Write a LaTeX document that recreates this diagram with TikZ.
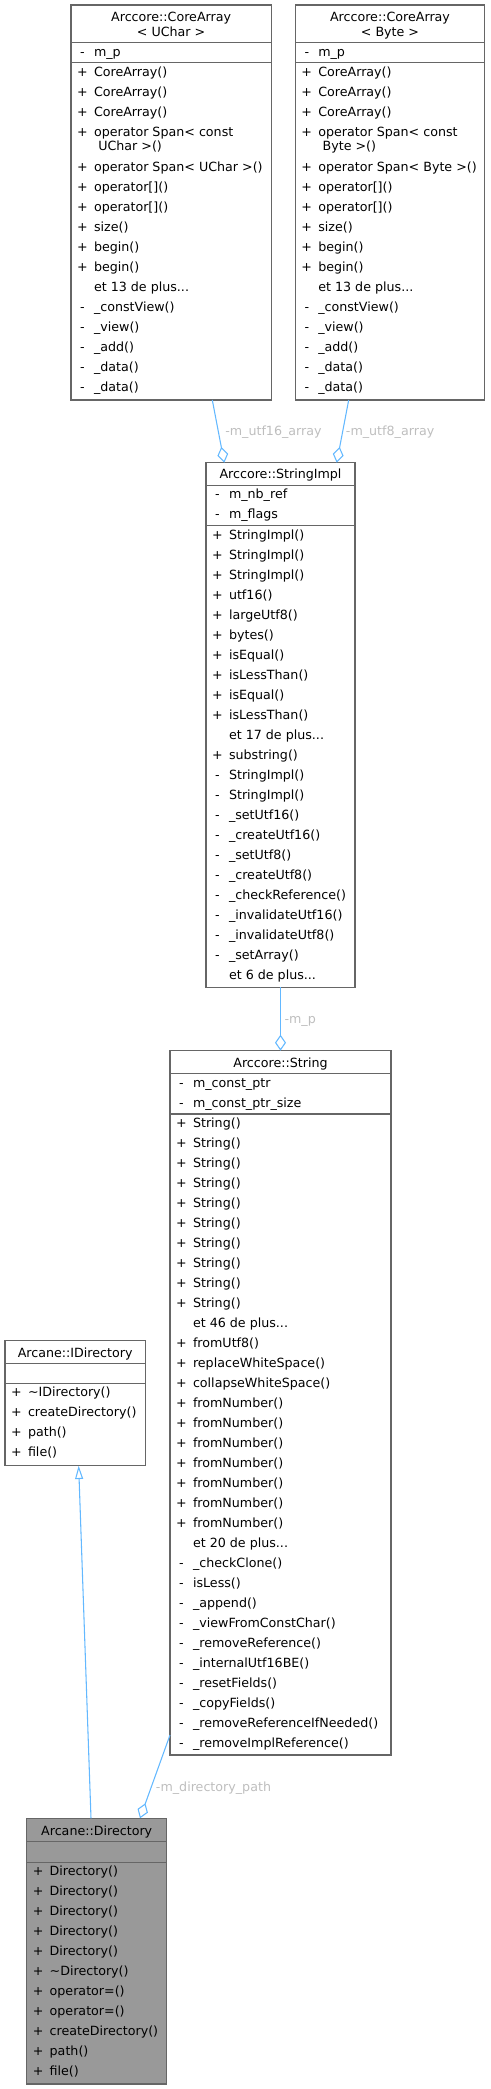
\documentclass[tikz,border=0pt]{standalone}
\usepackage{fontspec}
\setmainfont{DejaVu Sans}
\usetikzlibrary{arrows.meta,fit,calc}
\definecolor{edgec}{HTML}{63B8FF}
\definecolor{boxc}{HTML}{666666}
\definecolor{labc}{HTML}{BEBEBE}
\definecolor{hlfill}{HTML}{999999}
\newcounter{tn}
\newcommand{\mem}[4]{\stepcounter{tn}%
  \node[memtext,anchor=base] (s\arabic{tn}) at ({#1+11.5},{#2+4.7}) {#3};%
  \node[memtext,anchor=base west] (t\arabic{tn}) at ({#1+23},{#2+4.7}) {#4};}
\newcommand{\cont}[3]{\stepcounter{tn}%
  \node[memtext,anchor=base west] (c\arabic{tn}) at ({#1+27.3},{#2+4.7}) {#3};}
\newcommand{\ttl}[3]{\stepcounter{tn}%
  \node[memtext,anchor=base] (h\arabic{tn}) at ({#1},{#2+4.7}) {#3};}
\newcommand{\hsep}[3]{\draw[sepline] (#1,#3) -- (#2,#3);}
\begin{document}
\begin{tikzpicture}[x=0.75pt,y=-0.75pt,
  memtext/.style={inner sep=0pt, outer sep=0pt, font=\fontsize{9.5}{11.4}\selectfont, text=black},
  classbox/.style={draw=boxc, line width=0.8pt, inner sep=0pt, outer sep=0pt, fill=white},
  sepline/.style={draw=boxc, line width=0.8pt},
  edge/.style={draw=edgec, line width=0.8pt},
  elabel/.style={inner sep=0pt, font=\fontsize{9.5}{11.4}\selectfont, text=labc, anchor=base west},
  agg/.style={-{Diamond[open,length=12pt,width=8.25pt]}},
  inh/.style={-{Triangle[open,length=10pt,width=6pt]}}]
\useasboundingbox (0,0) rectangle (490,2089);

% ---------- boxes ----------
\node[classbox, fit={(71,5) (271.3,400)}] (cuc) {};
\node[classbox, fit={(295.3,5) (484.7,400)}] (cby) {};
\node[classbox, fit={(206,462.7) (355,987.3)}] (sim) {};
\node[classbox, fit={(170,1050.7) (391,1755)}] (str) {};
\node[classbox, fit={(5,1340.7) (145.3,1465.7)}] (idir) {};
\node[classbox, fill=hlfill, fit={(26.7,1818.3) (166.7,2084)}] (dir) {};

% ---------- separators ----------
\hsep{71}{271.3}{42.7}\hsep{71}{271.3}{62.3}
\hsep{295.3}{484.7}{42.7}\hsep{295.3}{484.7}{62.3}
\hsep{206}{355}{485.3}\hsep{206}{355}{525.3}
\hsep{170}{391}{1073.3}\hsep{170}{391}{1114}
\hsep{5}{145.3}{1363.3}\hsep{5}{145.3}{1383.3}
\hsep{26.7}{166.7}{1841.7}\hsep{26.7}{166.7}{1862.3}

% ---------- CoreArray<UChar> ----------
\ttl{171.15}{16.7}{Arccore::CoreArray}
\ttl{171.15}{31.7}{< UChar >}
\mem{71}{51.7}{-}{m\_p}
\mem{71}{71.3}{+}{CoreArray()}
\mem{71}{91.3}{+}{CoreArray()}
\mem{71}{111.3}{+}{CoreArray()}
\mem{71}{131.3}{+}{operator Span< const}
\cont{71}{146}{UChar >()}
\mem{71}{166.3}{+}{operator Span< UChar >()}
\mem{71}{186.3}{+}{operator[]()}
\mem{71}{206.3}{+}{operator[]()}
\mem{71}{226.3}{+}{size()}
\mem{71}{246.3}{+}{begin()}
\mem{71}{266.3}{+}{begin()}
\mem{71}{286.3}{}{et 13 de plus...}
\mem{71}{306.3}{-}{\_constView()}
\mem{71}{326.3}{-}{\_view()}
\mem{71}{346.3}{-}{\_add()}
\mem{71}{366.3}{-}{\_data()}
\mem{71}{386.3}{-}{\_data()}

% ---------- CoreArray<Byte> ----------
\ttl{390}{16.7}{Arccore::CoreArray}
\ttl{390}{31.7}{< Byte >}
\mem{295.3}{51.7}{-}{m\_p}
\mem{295.3}{71.3}{+}{CoreArray()}
\mem{295.3}{91.3}{+}{CoreArray()}
\mem{295.3}{111.3}{+}{CoreArray()}
\mem{295.3}{131.3}{+}{operator Span< const}
\cont{295.3}{146}{Byte >()}
\mem{295.3}{166.3}{+}{operator Span< Byte >()}
\mem{295.3}{186.3}{+}{operator[]()}
\mem{295.3}{206.3}{+}{operator[]()}
\mem{295.3}{226.3}{+}{size()}
\mem{295.3}{246.3}{+}{begin()}
\mem{295.3}{266.3}{+}{begin()}
\mem{295.3}{286.3}{}{et 13 de plus...}
\mem{295.3}{306.3}{-}{\_constView()}
\mem{295.3}{326.3}{-}{\_view()}
\mem{295.3}{346.3}{-}{\_add()}
\mem{295.3}{366.3}{-}{\_data()}
\mem{295.3}{386.3}{-}{\_data()}

% ---------- StringImpl ----------
\ttl{280.5}{474}{Arccore::StringImpl}
\mem{206}{494}{-}{m\_nb\_ref}
\mem{206}{514}{-}{m\_flags}
\mem{206}{534.3}{+}{StringImpl()}
\mem{206}{554.3}{+}{StringImpl()}
\mem{206}{574.3}{+}{StringImpl()}
\mem{206}{594.3}{+}{utf16()}
\mem{206}{614.3}{+}{largeUtf8()}
\mem{206}{634.3}{+}{bytes()}
\mem{206}{654.3}{+}{isEqual()}
\mem{206}{674.3}{+}{isLessThan()}
\mem{206}{694.3}{+}{isEqual()}
\mem{206}{714.3}{+}{isLessThan()}
\mem{206}{734.3}{}{et 17 de plus...}
\mem{206}{754.3}{+}{substring()}
\mem{206}{774.3}{-}{StringImpl()}
\mem{206}{794.3}{-}{StringImpl()}
\mem{206}{814.3}{-}{\_setUtf16()}
\mem{206}{834.3}{-}{\_createUtf16()}
\mem{206}{854.3}{-}{\_setUtf8()}
\mem{206}{874.3}{-}{\_createUtf8()}
\mem{206}{894.3}{-}{\_checkReference()}
\mem{206}{914.3}{-}{\_invalidateUtf16()}
\mem{206}{934.3}{-}{\_invalidateUtf8()}
\mem{206}{954.3}{-}{\_setArray()}
\mem{206}{974.3}{}{et 6 de plus...}

% ---------- String ----------
\ttl{280.5}{1062.7}{Arccore::String}
\mem{170}{1082.7}{-}{m\_const\_ptr}
\mem{170}{1102.7}{-}{m\_const\_ptr\_size}
\mem{170}{1122.7}{+}{String()}
\mem{170}{1142.7}{+}{String()}
\mem{170}{1162.7}{+}{String()}
\mem{170}{1182.7}{+}{String()}
\mem{170}{1202.7}{+}{String()}
\mem{170}{1222.7}{+}{String()}
\mem{170}{1242.7}{+}{String()}
\mem{170}{1262.7}{+}{String()}
\mem{170}{1282.7}{+}{String()}
\mem{170}{1302.7}{+}{String()}
\mem{170}{1322.7}{}{et 46 de plus...}
\mem{170}{1342.7}{+}{fromUtf8()}
\mem{170}{1362.7}{+}{replaceWhiteSpace()}
\mem{170}{1382.7}{+}{collapseWhiteSpace()}
\mem{170}{1402.7}{+}{fromNumber()}
\mem{170}{1422.7}{+}{fromNumber()}
\mem{170}{1442.7}{+}{fromNumber()}
\mem{170}{1462.7}{+}{fromNumber()}
\mem{170}{1482.7}{+}{fromNumber()}
\mem{170}{1502.7}{+}{fromNumber()}
\mem{170}{1522.7}{+}{fromNumber()}
\mem{170}{1542.7}{}{et 20 de plus...}
\mem{170}{1562.7}{-}{\_checkClone()}
\mem{170}{1582.7}{-}{isLess()}
\mem{170}{1602.7}{-}{\_append()}
\mem{170}{1622.7}{-}{\_viewFromConstChar()}
\mem{170}{1642.7}{-}{\_removeReference()}
\mem{170}{1662.7}{-}{\_internalUtf16BE()}
\mem{170}{1682.7}{-}{\_resetFields()}
\mem{170}{1702.7}{-}{\_copyFields()}
\mem{170}{1722.7}{-}{\_removeReferenceIfNeeded()}
\mem{170}{1742.7}{-}{\_removeImplReference()}

% ---------- IDirectory ----------
\ttl{75.15}{1352.7}{Arcane::IDirectory}
\mem{5}{1391.7}{+}{\textasciitilde IDirectory()}
\mem{5}{1411.7}{+}{createDirectory()}
\mem{5}{1431.7}{+}{path()}
\mem{5}{1451.7}{+}{file()}

% ---------- Directory ----------
\ttl{96.7}{1830.7}{Arcane::Directory}
\mem{26.7}{1870.7}{+}{Directory()}
\mem{26.7}{1890.7}{+}{Directory()}
\mem{26.7}{1910.7}{+}{Directory()}
\mem{26.7}{1930.7}{+}{Directory()}
\mem{26.7}{1950.7}{+}{Directory()}
\mem{26.7}{1970.7}{+}{\textasciitilde Directory()}
\mem{26.7}{1990.7}{+}{operator=()}
\mem{26.7}{2010.7}{+}{operator=()}
\mem{26.7}{2030.7}{+}{createDirectory()}
\mem{26.7}{2050.7}{+}{path()}
\mem{26.7}{2070.7}{+}{file()}

% ---------- connectors ----------
\draw[edge,agg] ($(cuc.south)+(41.15,0)$) -- ($(sim.north)+(-56.2,0)$);
\draw[edge,agg] ($(cby.south)+(-41.3,0)$) -- ($(sim.north)+(56.2,0)$);
\draw[edge,agg] (sim.south) -- (str.north);
\draw[edge,agg] ($(str.south west)+(0,-20)$) -- ($(dir.north)+(43.3,0)$);
\draw[edge,inh] ($(dir.north)+(-5.7,0)$) -- ($(idir.south)+(3.5,0)$);

% ---------- labels ----------
\node[elabel] (l1) at (225,435.2) {-m\_utf16\_array};
\node[elabel] (l2) at (345.7,435.2) {-m\_utf8\_array};
\node[elabel] (l3) at (284.3,1023.8) {-m\_p};
\node[elabel] (l4) at (155.7,1791.2) {-m\_directory\_path};
\end{tikzpicture}
\end{document}
